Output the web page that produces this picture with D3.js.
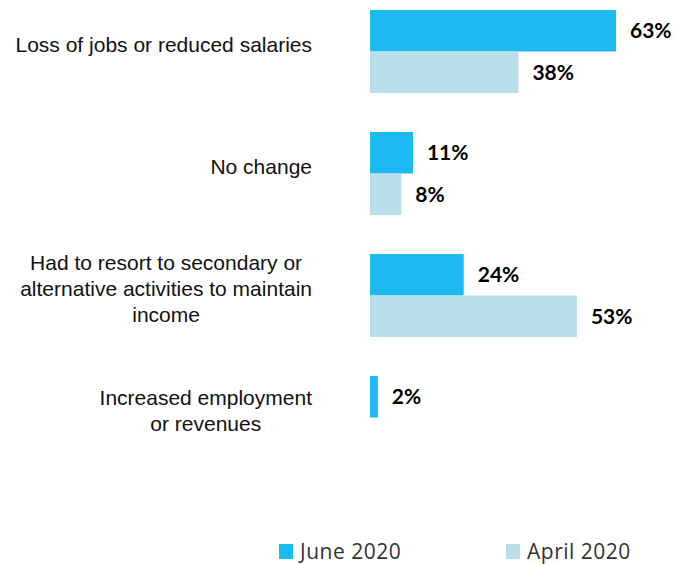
<!DOCTYPE html>
<html>
<head>
<meta charset="utf-8">
<script src="https://cdn.jsdelivr.net/npm/d3@7"></script>
<style>
  html, body { margin: 0; padding: 0; background: #fff; }
  svg { display: block; }
</style>
</head>
<body>
<svg id="chart" width="676" height="565"></svg>
<script>
// Impact on income, by survey round
const categories = [
  ["Loss of jobs or reduced salaries"],
  ["No change"],
  ["Had to resort to secondary or", "alternative activities to maintain", "income"],
  ["Increased employment", "or revenues"]
];
const seriesNames = ["June 2020", "April 2020"];
const june = [63, 11, 24, 2];
const april = [38, 8, 53, null];
const seriesColors = ["#1db9f1", "#b9dee9"];

const svg = d3.select("#chart");
const catKeys = categories.map(c => c.join(" "));
const values = [june, april];

const x = d3.scaleLinear().domain([0, 63]).range([370, 616]);
const y = d3.scaleBand().domain(catKeys).range([10, 459]).paddingInner(0.32).paddingOuter(0);
const ySub = d3.scaleBand().domain(seriesNames).range([0, y.bandwidth()]);

const rows = [];
catKeys.forEach((k, i) => {
  seriesNames.forEach((s, j) => {
    const v = values[j][i];
    if (v != null) rows.push({ cat: k, series: s, value: v, color: seriesColors[j] });
  });
});

const bars = svg.append("g");
bars.selectAll("rect").data(rows).join("rect")
  .attr("x", x(0))
  .attr("y", d => y(d.cat) + ySub(d.series))
  .attr("width", d => x(d.value) - x(0))
  .attr("height", ySub.bandwidth())
  .attr("fill", d => d.color);

bars.selectAll("text").data(rows).join("text")
  .attr("x", d => x(d.value) + 14)
  .attr("y", d => y(d.cat) + ySub(d.series) + ySub.bandwidth() / 2 - 1)
  .attr("dominant-baseline", "central")
  .attr("font-family", "Lato, 'Open Sans', sans-serif")
  .attr("font-weight", "bold")
  .attr("font-size", 21)
  .attr("fill", "#000")
  .text(d => d.value + "%");

// Category labels: block right-aligned to the axis, lines centred inside it
const labelRight = 312;
const lineH = 26;
const catG = svg.append("g")
  .attr("font-family", "'Liberation Sans', Arial, sans-serif")
  .attr("font-size", 21)
  .attr("fill", "#111");
categories.forEach((lines, i) => {
  const g = catG.append("g");
  const cy = y(catKeys[i]) + y.bandwidth() / 2 - 7;
  const texts = lines.map((ln, li) => g.append("text")
    .attr("y", cy + (li - (lines.length - 1) / 2) * lineH)
    .attr("dominant-baseline", "central")
    .attr("text-anchor", "middle")
    .text(ln));
  const maxW = d3.max(texts, t => t.node().getComputedTextLength());
  texts.forEach(t => t.attr("x", labelRight - maxW / 2));
});

// Legend
const legendX = [279, 506];
const legend = svg.append("g");
seriesNames.forEach((s, j) => {
  legend.append("rect")
    .attr("x", legendX[j]).attr("y", 544)
    .attr("width", 14).attr("height", 15)
    .attr("fill", seriesColors[j]);
  legend.append("text")
    .attr("x", legendX[j] + 21).attr("y", 559)
    .attr("font-family", "'Open Sans', sans-serif")
    .attr("font-size", 21)
    .attr("letter-spacing", 0.5)
    .attr("fill", "#333")
    .text(s);
});
</script>
</body>
</html>
